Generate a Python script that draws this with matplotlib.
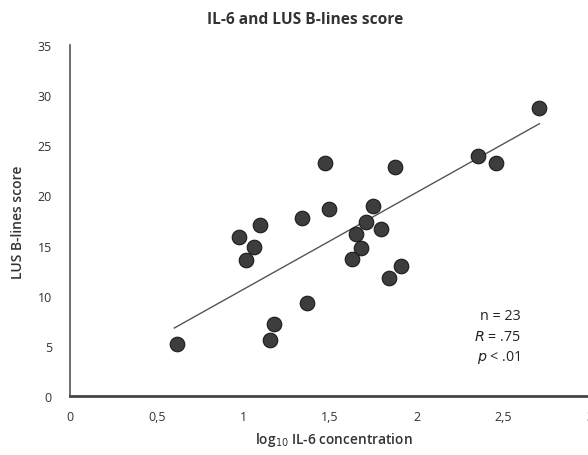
import matplotlib
matplotlib.use("Agg")
import matplotlib.pyplot as plt

plt.rcParams['font.family'] = ['Open Sans', 'DejaVu Sans']

# Data
il6_log10 = [1.471, 1.494, 1.337, 1.098, 0.975, 1.064, 1.016, 1.368, 1.179, 1.156, 0.616,
             2.705, 2.353, 2.460, 1.875, 1.748, 1.708, 1.793, 1.650, 1.681, 1.629, 1.910, 1.843]
bline_score = [23.2, 18.6, 17.75, 17.05, 15.9, 14.9, 13.6, 9.3, 7.2, 5.6, 5.2,
               28.7, 23.96, 23.2, 22.8, 18.9, 17.35, 16.65, 16.2, 14.8, 13.7, 12.96, 11.8]
fit_x = [0.602, 2.708]
fit_y = [6.78, 27.15]
x_ticks = [0, 0.5, 1, 1.5, 2, 2.5, 3]
x_tick_labels = ["0", "0,5", "1", "1,5", "2", "2,5", "3"]
y_ticks = [0, 5, 10, 15, 20, 25, 30, 35]
stats_lines = [r"n = 23", r"$\mathit{R}$ = .75", r"$\mathit{p}$ < .01"]

fig = plt.figure(figsize=(5.88, 4.56), dpi=100)
ax = fig.add_axes([70/588, 59/456, 520/588, 351/456])

ax.plot(fit_x, fit_y, color="#555555", lw=1.0, zorder=2)
ax.scatter(il6_log10, bline_score, s=110, color="#3d3d3d", edgecolor="#1a1a1a",
           linewidth=0.8, zorder=3)

ax.set_xlim(0, 3)
ax.set_ylim(0, 35)
ax.set_xticks(x_ticks)
ax.set_xticklabels(x_tick_labels)
ax.set_yticks(y_ticks)
ax.tick_params(axis='both', length=0, labelsize=9, colors="#333333")
ax.tick_params(axis='x', pad=10)
ax.tick_params(axis='y', pad=13)
for side in ("top", "right"):
    ax.spines[side].set_visible(False)
ax.spines["left"].set_color("#555555")
ax.spines["left"].set_linewidth(1.2)
ax.spines["bottom"].set_color("#444444")
ax.spines["bottom"].set_linewidth(2.0)

fig.text(305/588, 1 - 20/456, "IL-6 and LUS B-lines score", ha="center", va="center",
         fontsize=11.2, fontweight="bold", color="#333333")
fig.text(18/588, 1 - 222/456, "LUS B-lines score", ha="center", va="center",
         rotation=90, fontsize=10, fontweight="semibold", color="#333333")
fig.text(334/588, 1 - 440/456, r"log$_{10}$ IL-6 concentration", ha="center", va="center",
         fontsize=9.9, fontweight="semibold", color="#333333")

for i, line in enumerate(stats_lines):
    fig.text(521/588, 1 - (317 + 20.5*i)/456, line, ha="right", va="center",
             fontsize=10.3, color="#222222")

fig.savefig("out.png", dpi=100)
